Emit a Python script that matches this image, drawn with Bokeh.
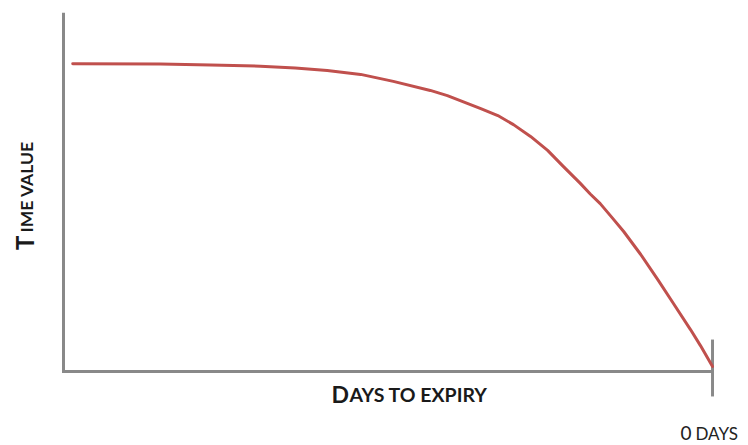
import math
from bokeh.plotting import figure
from bokeh.models import Range1d, Label
from bokeh.embed import file_html
from bokeh.resources import INLINE

# Data (days to expiry vs. time value, start = 100)
days_to_expiry = [90.0, 77.7, 70.6, 63.6, 58.7, 54.2, 49.5, 44.9, 39.7, 37.3,
                  32.6, 30.2, 28.0, 25.6, 23.2, 21.0, 18.6, 17.2, 15.8, 14.1,
                  12.5, 10.1, 7.7, 5.5, 3.1, 1.7, 0.0]
time_value = [100.0, 99.9, 99.6, 99.2, 98.6, 97.8, 96.5, 94.2, 91.2, 89.5,
              85.2, 82.9, 79.9, 76.0, 71.4, 66.1, 60.5, 57.0, 53.8, 49.1,
              44.6, 37.0, 28.7, 20.8, 12.2, 6.9, 0.0]

# Axis extents (days axis runs from 91.3 down to 0; value axis from -1.65 up)
x_axis_span = [91.3, 0.0]
y_axis_span = [-1.65, 116.9]
x_ticks = [0.0]
tick_extent = [8.9, -9.9]          # tick at 0 days, in value units

W, H = 748, 445
GRAY = "#898989"
RED = "#C0504D"
TXT = "#1a1a1a"

p = figure(width=W, height=H, output_backend="svg", toolbar_location=None,
           x_range=Range1d(100.16, -5.06), y_range=Range1d(-26.10, 120.91),
           x_axis_location=None, y_axis_location=None, min_border=0)
p.outline_line_color = None
p.grid.visible = False
p.background_fill_color = "white"
p.border_fill_color = "white"

# axes as an L-shaped polyline
p.line([x_axis_span[0], x_axis_span[0], x_axis_span[1]],
       [y_axis_span[1], y_axis_span[0], y_axis_span[0]],
       line_color=GRAY, line_width=3, line_join="miter")
# tick mark at 0 days
for t in x_ticks:
    p.line([t, t], tick_extent, line_color=GRAY, line_width=3)

# the time-value curve
p.line(days_to_expiry, time_value, line_color=RED, line_width=3,
       line_join="round", line_cap="round")

FONT = "Lato"
K = 0.387   # correction: rendered baseline sits this many ems below the anchor

def lab(x, y, text, size, style="bold", rotated=False, color=TXT):
    # x, y: baseline start in canvas pixels from the lower-left corner
    off = K * size
    if rotated:
        x, ang = x - off, math.pi / 2
    else:
        y, ang = y + off, 0.0
    p.add_layout(Label(x=x, y=y, x_units="screen", y_units="screen", text=text,
                       text_font=FONT, text_font_size=f"{size}px",
                       text_font_style=style, text_color=color,
                       text_align="left", text_baseline="alphabetic",
                       angle=ang))

# x-axis title (small caps)
lab(331, 43, "D", 23)
lab(349, 43, "AYS TO EXPIRY", 19.5)
# y-axis title (small caps, rotated)
lab(33, 195.5, "T", 24, rotated=True)
lab(33, 213, "IME VALUE", 17.5, rotated=True)
# end label
lab(680, 5, "0", 19, style="normal", color="#222222")
lab(695, 5, "DAYS", 17, style="normal", color="#222222")

open("out.html", "w").write(file_html(p, INLINE))
